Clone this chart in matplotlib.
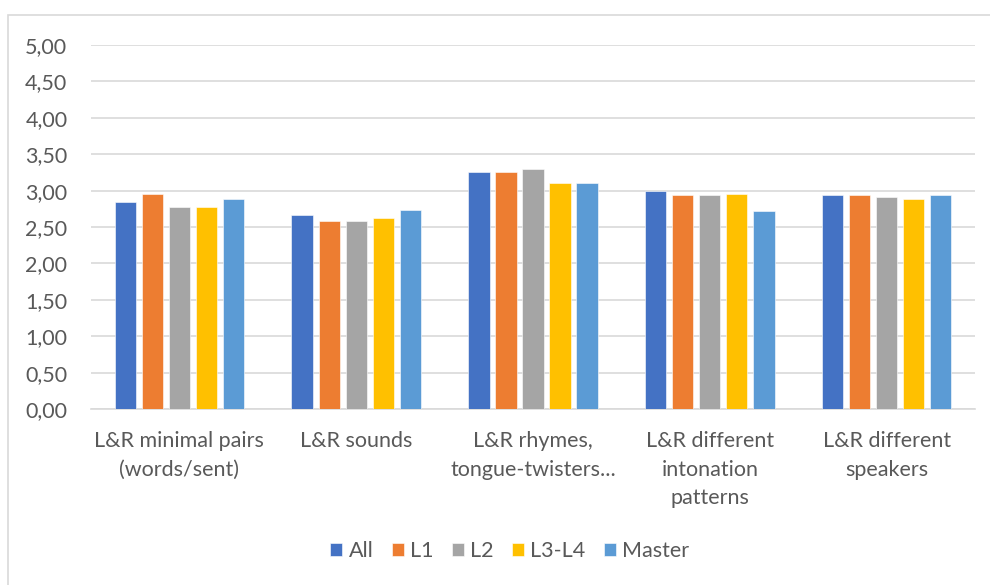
import matplotlib
matplotlib.use("Agg")
import matplotlib.pyplot as plt
import numpy as np
from matplotlib.patches import Rectangle

# Category labels and series values
categories = [
    "L&R minimal pairs\n(words/sent)",
    "L&R sounds",
    "L&R rhymes,\ntongue-twisters...",
    "L&R different\nintonation\npatterns",
    "L&R different\nspeakers",
]
series_names = ["All", "L1", "L2", "L3-L4", "Master"]
all_vals = [2.85, 2.66, 3.26, 2.99, 2.94]
l1_vals = [2.96, 2.58, 3.26, 2.94, 2.94]
l2_vals = [2.77, 2.58, 3.29, 2.94, 2.91]
l34_vals = [2.77, 2.63, 3.10, 2.96, 2.88]
master_vals = [2.88, 2.74, 3.10, 2.72, 2.94]
y_ticks = [0, 0.5, 1.0, 1.5, 2.0, 2.5, 3.0, 3.5, 4.0, 4.5, 5.0]

colors = ["#4472C4", "#ED7D31", "#A5A5A5", "#FFC000", "#5B9BD5"]
text_color = "#595959"
grid_color = "#D9D9D9"
fs = 15.5

plt.rcParams["font.family"] = ["Lato", "DejaVu Sans"]

fig = plt.figure(figsize=(9.9, 5.85), dpi=100)
# chart frame
fig.patches.append(Rectangle((8 / 990, -0.1), 1.2, 1 - 15 / 585 + 0.1,
                             transform=fig.transFigure, fill=False,
                             edgecolor="#D9D9D9", linewidth=1.2))

ax = fig.add_axes([91 / 990, 1 - 409 / 585, (975 - 91) / 990, (409 - 45) / 585])

x = np.arange(len(categories))
all_series = [all_vals, l1_vals, l2_vals, l34_vals, master_vals]
step = 0.153
width = 0.12
for i, (name, vals, c) in enumerate(zip(series_names, all_series, colors)):
    ax.bar(x + (i - 2) * step, vals, width=width, color=c, label=name,
           edgecolor="white", linewidth=0.4, zorder=3)

ax.set_xlim(-0.5, len(categories) - 0.5)
ax.set_ylim(0, 5)
ax.set_yticks(y_ticks)
ax.set_yticklabels([f"{v:.2f}".replace(".", ",") for v in y_ticks])
ax.yaxis.grid(True, color=grid_color, linewidth=1.2, zorder=0)
ax.set_axisbelow(True)
for s in ["top", "right", "left"]:
    ax.spines[s].set_visible(False)
ax.spines["bottom"].set_color(grid_color)
ax.spines["bottom"].set_linewidth(1.2)
ax.tick_params(axis="y", length=0, pad=17, labelsize=fs, labelcolor=text_color)
ax.tick_params(axis="x", length=0, pad=16, labelsize=fs, labelcolor=text_color)
ax.set_xticks(x)
ax.set_xticklabels(categories, linespacing=1.52)

fig.legend(loc="center", bbox_to_anchor=(0.515, 1 - 551 / 585), ncol=5,
           frameon=False, fontsize=fs, labelcolor=text_color,
           handlelength=0.55, handleheight=0.55, handletextpad=0.3,
           columnspacing=0.85)

fig.savefig("out.png", dpi=100)
